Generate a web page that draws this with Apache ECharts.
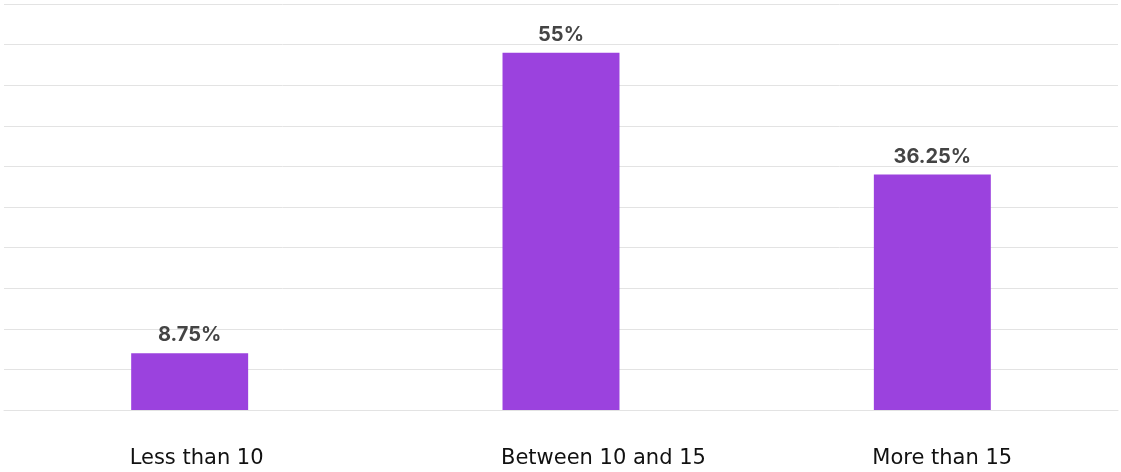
<!DOCTYPE html>
<html><head><meta charset="utf-8">
<script src="https://cdn.jsdelivr.net/npm/echarts@6/dist/echarts.min.js"></script>
<style>html,body{margin:0;padding:0;background:#fff}#c{width:1121px;height:472px}</style>
</head><body><div id="c"></div>
<script>
const categories = ['Less than 10', 'Between 10 and 15', 'More than 15'];
const values = [8.75, 55, 36.25];
const chart = echarts.init(document.getElementById('c'));
chart.setOption({
  animation: false,
  grid: {left: 4, right: 3, top: 4, bottom: 62, containLabel: false},
  xAxis: {
    type: 'category', data: categories,
    axisLine: {show: true, lineStyle: {color: '#e3e3e3', width: 1}},
    axisTick: {show: false},
    axisLabel: {
      margin: 38, align: 'center',
      formatter: v => '{a|' + v + '}',
      rich: {a: {width: 120, align: 'left', color: '#111', fontSize: 21, fontFamily: 'DejaVu Sans'}}
    }
  },
  yAxis: {
    type: 'value', min: 0, max: 62.5, interval: 6.25,
    axisLabel: {show: false}, axisLine: {show: false}, axisTick: {show: false},
    splitLine: {lineStyle: {color: '#e3e3e3', width: 1}}
  },
  series: [{
    type: 'bar', data: values, barWidth: '31.5%',
    itemStyle: {color: '#9b42de'},
    label: {show: true, position: 'top', distance: 8, color: '#444', fontSize: 20, fontWeight: 'bold', fontFamily: 'Inter',
      formatter: p => p.value + '%'}
  }]
});
</script></body></html>
